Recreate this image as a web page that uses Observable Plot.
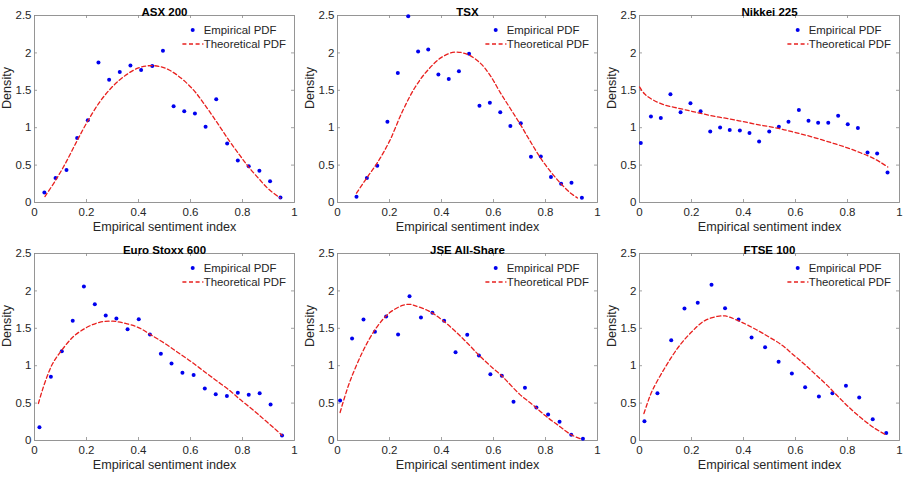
<!DOCTYPE html>
<html>
<head>
<meta charset="utf-8">
<script src="https://cdn.jsdelivr.net/npm/d3@7"></script>
<script src="https://cdn.jsdelivr.net/npm/@observablehq/plot@0.6"></script>
<style>
  html, body { margin: 0; padding: 0; background: #ffffff; }
  #fig { position: relative; width: 910px; height: 480px; overflow: hidden; background: #ffffff;
         font-family: "Liberation Sans", Arial, Helvetica, sans-serif; }
  .panel { position: absolute; }
  .panel svg { overflow: visible; }
  .legend { position: absolute; overflow: visible; }
</style>
</head>
<body>
<div id="fig"></div>
<script>
// ---------- data ----------
const titles = ["ASX 200", "TSX", "Nikkei 225", "Euro Stoxx 600", "JSE All-Share", "FTSE 100"];
const xTicks = [0, 0.2, 0.4, 0.6, 0.8, 1];
const yTicks = [0, 0.5, 1, 1.5, 2, 2.5];
const xLabel = "Empirical sentiment index";
const yLabel = "Density";
const seriesNames = ["Empirical PDF", "Theoretical PDF"];

// ASX 200
const asxX = [0.038,0.081,0.123,0.164,0.205,0.246,0.287,0.328,0.369,0.41,0.453,0.494,0.535,0.576,0.617,0.658,0.699,0.741,0.782,0.824,0.865,0.906,0.946];
const asxY = [0.134,0.326,0.433,0.862,1.10,1.87,1.64,1.745,1.83,1.77,1.826,2.03,1.286,1.22,1.19,1.013,1.38,0.79,0.563,0.485,0.423,0.283,0.067];
const asxCurveX = [0.04,0.08,0.12,0.16,0.20,0.25,0.30,0.35,0.40,0.45,0.50,0.55,0.61,0.65,0.70,0.75,0.79,0.82,0.86,0.90,0.945];
const asxCurveY = [0.08,0.29,0.53,0.80,1.06,1.34,1.55,1.70,1.80,1.83,1.80,1.70,1.51,1.33,1.08,0.82,0.63,0.49,0.33,0.18,0.06];

// TSX
const tsxX = [0.073,0.113,0.153,0.192,0.232,0.272,0.310,0.349,0.388,0.428,0.467,0.506,0.546,0.586,0.626,0.665,0.705,0.744,0.782,0.821,0.86,0.90,0.94];
const tsxY = [0.076,0.326,0.49,1.08,1.73,2.49,2.02,2.045,1.71,1.65,1.755,1.99,1.295,1.335,1.205,1.022,1.058,0.61,0.616,0.34,0.25,0.263,0.0625];
const tsxCurveX = [0.073,0.113,0.153,0.20,0.25,0.30,0.35,0.40,0.45,0.50,0.55,0.587,0.626,0.664,0.703,0.741,0.78,0.818,0.857,0.895,0.923];
const tsxCurveY = [0.125,0.33,0.53,0.82,1.22,1.55,1.78,1.94,2.01,1.98,1.86,1.70,1.47,1.26,1.045,0.82,0.60,0.42,0.26,0.13,0.06];

// Nikkei 225
const nkX = [0.005,0.044,0.082,0.119,0.158,0.196,0.235,0.272,0.31,0.347,0.386,0.423,0.46,0.499,0.536,0.573,0.613,0.65,0.687,0.726,0.764,0.801,0.84,0.877,0.914,0.954];
const nkY = [0.795,1.15,1.13,1.446,1.205,1.326,1.219,0.95,1.004,0.969,0.964,0.929,0.817,0.95,1.013,1.08,1.237,1.094,1.067,1.067,1.16,1.045,0.996,0.67,0.656,0.402];
const nkCurveX = [0.0,0.02,0.05,0.10,0.15,0.20,0.25,0.30,0.35,0.40,0.45,0.50,0.55,0.60,0.65,0.70,0.75,0.80,0.85,0.90,0.93,0.955];
const nkCurveY = [1.545,1.45,1.375,1.30,1.26,1.22,1.18,1.145,1.115,1.08,1.045,1.013,0.978,0.935,0.89,0.84,0.786,0.73,0.665,0.59,0.53,0.475];

// Euro Stoxx 600
const euX = [0.019,0.063,0.105,0.147,0.19,0.232,0.274,0.315,0.358,0.401,0.444,0.486,0.527,0.569,0.612,0.655,0.697,0.74,0.782,0.824,0.866,0.908,0.952];
const euY = [0.178,0.851,1.194,1.6,2.059,1.823,1.671,1.631,1.488,1.622,1.417,1.159,1.029,0.905,0.875,0.695,0.619,0.594,0.637,0.612,0.632,0.481,0.067];
const euCurveX = [0.015,0.03,0.05,0.07,0.10,0.15,0.20,0.25,0.30,0.35,0.40,0.444,0.50,0.55,0.60,0.65,0.70,0.75,0.79,0.84,0.88,0.92,0.952];
const euCurveY = [0.495,0.67,0.87,1.03,1.185,1.39,1.51,1.58,1.595,1.565,1.51,1.42,1.30,1.18,1.06,0.93,0.80,0.67,0.55,0.41,0.29,0.17,0.07];

// JSE All-Share
const jseX = [0.010,0.056,0.1,0.144,0.187,0.233,0.277,0.321,0.365,0.41,0.454,0.499,0.544,0.588,0.632,0.677,0.721,0.765,0.81,0.854,0.899,0.944];
const jseY = [0.535,1.364,1.618,1.453,1.658,1.417,1.93,1.644,1.707,1.6,1.181,1.413,1.136,0.887,0.865,0.517,0.704,0.441,0.348,0.25,0.076,0.022];
const jseCurveX = [0.01,0.02,0.05,0.10,0.15,0.20,0.25,0.28,0.30,0.35,0.40,0.45,0.50,0.55,0.60,0.632,0.65,0.70,0.75,0.80,0.85,0.90,0.94];
const jseCurveY = [0.374,0.495,0.81,1.21,1.51,1.707,1.805,1.82,1.80,1.733,1.618,1.47,1.30,1.12,0.96,0.865,0.80,0.62,0.48,0.33,0.20,0.075,0.015];

// FTSE 100
const ftX = [0.019,0.069,0.122,0.173,0.224,0.277,0.329,0.381,0.431,0.483,0.535,0.586,0.637,0.69,0.742,0.794,0.845,0.897,0.949];
const ftY = [0.258,0.633,1.341,1.765,1.84,2.081,1.769,1.618,1.377,1.248,1.052,0.896,0.713,0.588,0.633,0.733,0.575,0.283,0.101];
const ftCurveX = [0.017,0.03,0.05,0.10,0.15,0.20,0.25,0.30,0.33,0.35,0.40,0.45,0.50,0.55,0.586,0.631,0.676,0.721,0.765,0.81,0.855,0.90,0.945];
const ftCurveY = [0.36,0.495,0.673,0.985,1.25,1.45,1.60,1.66,1.665,1.645,1.57,1.48,1.38,1.27,1.163,1.03,0.886,0.74,0.583,0.43,0.294,0.174,0.08];

// ---------- build ----------
const empX = [asxX, tsxX, nkX, euX, jseX, ftX];
const empY = [asxY, tsxY, nkY, euY, jseY, ftY];
const curX = [asxCurveX, tsxCurveX, nkCurveX, euCurveX, jseCurveX, ftCurveX];
const curY = [asxCurveY, tsxCurveY, nkCurveY, euCurveY, jseCurveY, ftCurveY];

const BLUE = "#0000ee";
const RED = "#e8201e";
const AXIS = "#8a8a8a";
const TEXT = "#262626";
const FONT = "'Liberation Sans', Arial, Helvetica, sans-serif";

const plotLefts = [34.3, 337.3, 639.3];
const plotTops = [14.6, 253.3];
const PW = 260, PH = 187;
const ML = 36, MR = 8, MT = 16, MB = 42;
const TICK = 3;

const fig = document.getElementById("fig");

titles.forEach((title, i) => {
  const col = i % 3, row = Math.floor(i / 3);
  const left = plotLefts[col], top = plotTops[row];
  const pts = empX[i].map((x, k) => ({x, y: empY[i][k]}));
  const curve = curX[i].map((x, k) => ({x, y: curY[i][k]}));
  const inner = xTicks.filter(t => t > 0 && t < 1);
  const innerY = yTicks.filter(t => t > 0 && t < 2.5);

  const chart = Plot.plot({
    width: ML + PW + MR,
    height: MT + PH + MB,
    marginLeft: ML, marginRight: MR, marginTop: MT, marginBottom: MB,
    style: {fontFamily: FONT, fontSize: "11.5px", color: TEXT, background: "transparent", overflow: "visible"},
    x: {domain: [0, 1]},
    y: {domain: [0, 2.5]},
    marks: [
      // inward ticks on all four sides (MATLAB style box)
      Plot.tickX(inner, {x: d => d, stroke: AXIS, strokeWidth: 0.8, insetTop: PH - TICK}),
      Plot.tickX(inner, {x: d => d, stroke: AXIS, strokeWidth: 0.8, insetBottom: PH - TICK}),
      Plot.tickY(innerY, {y: d => d, stroke: AXIS, strokeWidth: 0.8, insetRight: PW - TICK}),
      Plot.tickY(innerY, {y: d => d, stroke: AXIS, strokeWidth: 0.8, insetLeft: PW - TICK}),
      Plot.frame({stroke: AXIS, strokeWidth: 0.9}),
      Plot.axisX({ticks: xTicks, tickSize: 0, tickPadding: 5, tickFormat: d => String(d), label: null, fill: TEXT, fontSize: 11.5}),
      Plot.axisY({ticks: yTicks, tickSize: 0, tickPadding: 3, tickFormat: d => String(d), label: null, fill: TEXT, fontSize: 11.5}),
      Plot.dot(pts, {x: "x", y: "y", r: 2, fill: BLUE, stroke: null}),
      Plot.line(curve, {x: "x", y: "y", stroke: RED, strokeWidth: 1.3, strokeDasharray: "4,2.6", curve: "catmull-rom"}),
      Plot.text([title], {text: d => d, frameAnchor: "top", dy: -8, fontWeight: "bold", fontSize: 11.5, fill: "#000"}),
      Plot.text([xLabel], {text: d => d, frameAnchor: "bottom", dy: 28, fontSize: 12.6, fill: TEXT}),
      Plot.text([yLabel], {text: d => d, frameAnchor: "left", dx: -28, rotate: -90, fontSize: 12.6, fill: TEXT})
    ]
  });

  const wrap = document.createElement("div");
  wrap.className = "panel";
  wrap.style.left = (left - ML) + "px";
  wrap.style.top = (top - MT) + "px";
  wrap.appendChild(chart);
  fig.appendChild(wrap);

  // legend (no box), top-right inside the axes
  const ns = "http://www.w3.org/2000/svg";
  const lg = document.createElementNS(ns, "svg");
  lg.setAttribute("class", "legend");
  lg.setAttribute("width", PW);
  lg.setAttribute("height", 40);
  lg.style.left = left + "px";
  lg.style.top = top + "px";
  const mk = (tag, attrs, txt) => {
    const el = document.createElementNS(ns, tag);
    for (const k in attrs) el.setAttribute(k, attrs[k]);
    if (txt) el.textContent = txt;
    lg.appendChild(el);
    return el;
  };
  mk("circle", {cx: 158.7, cy: 15, r: 2, fill: BLUE});
  mk("text", {x: 169.7, y: 15, "dominant-baseline": "central", "font-size": "11.4px", "font-family": FONT, fill: TEXT}, seriesNames[0]);
  mk("line", {x1: 148.4, x2: 169.4, y1: 29, y2: 29, stroke: RED, "stroke-width": 1.3, "stroke-dasharray": "4,2.6"});
  mk("text", {x: 169.7, y: 29, "dominant-baseline": "central", "font-size": "11.4px", "font-family": FONT, fill: TEXT}, seriesNames[1]);
  fig.appendChild(lg);
});
</script>
</body>
</html>
